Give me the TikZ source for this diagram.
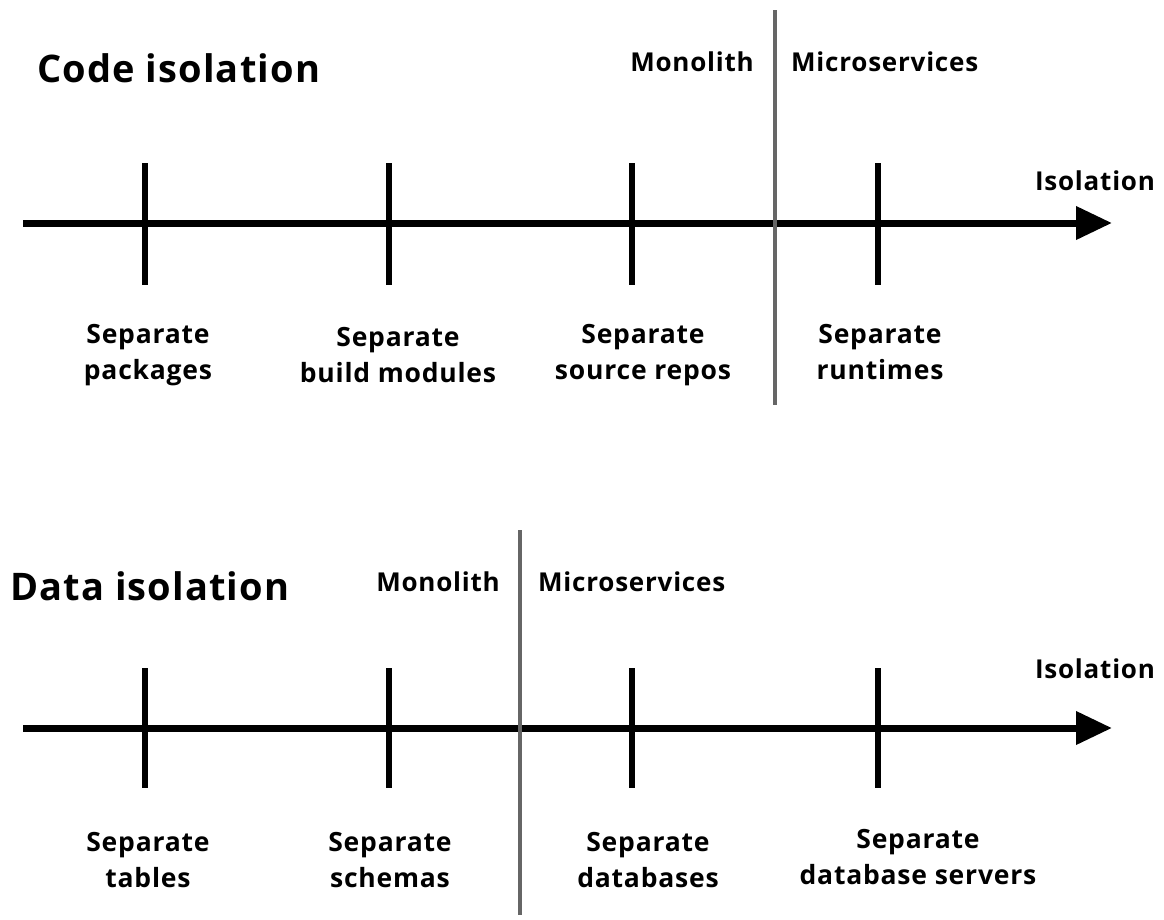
\documentclass[tikz,border=0pt]{standalone}
\usepackage{fontspec}
\setmainfont{Open Sans}[LetterSpace=3]
\usetikzlibrary{arrows.meta}
\begin{document}
\begin{tikzpicture}[x=1pt,y=-1pt,
  axis/.style={line width=7pt,-{Triangle[length=36pt,width=32pt]}},
  tick/.style={line width=6.5pt},
  divider/.style={line width=3.5pt,draw=black!60},
  title/.style={font=\fontsize{38}{44}\selectfont\bfseries,anchor=west,inner sep=0pt},
  side/.style={font=\fontsize{26}{30}\selectfont\bfseries,inner sep=0pt},
  lbl/.style={font=\fontsize{26.5}{36}\selectfont\bfseries,align=center,inner sep=0pt}]
\useasboundingbox[fill=white] (0,0) rectangle (1164,919);

% ---- code isolation ----
\node[title] (t1) at (37,68) {Code isolation};
\coordinate (a1s) at (23,223);
\coordinate (a1e) at (1112,223);
\draw[axis] (a1s) -- (a1e);
\foreach \x/\n in {145/p1,389/p2,632/p3,878/p4}{
  \coordinate (\n t) at (\x,163);
  \coordinate (\n b) at (\x,285);
  \draw[tick] (\n t) -- (\n b);
}
\coordinate (d1t) at (775,10);
\coordinate (d1b) at (775,405);
\draw[divider] (d1t) -- (d1b);
\node[side] (m1) at (692,62) {Monolith};
\node[side,anchor=west] (ms1) at (791,62) {Microservices};
\node[side] (i1) at (1095,181) {Isolation};
\node[lbl] (l11) at (148,355) {Separate\\packages};
\node[lbl] (l12) at (398,355) {Separate\\build modules};
\node[lbl] (l13) at (643,355) {Separate\\source repos};
\node[lbl] (l14) at (880,352) {Separate\\runtimes};

% ---- data isolation ----
\node[title] (t2) at (10,586) {Data isolation};
\coordinate (a2s) at (23,728);
\coordinate (a2e) at (1112,728);
\draw[axis] (a2s) -- (a2e);
\foreach \x/\n in {145/q1,389/q2,632/q3,878/q4}{
  \coordinate (\n t) at (\x,668);
  \coordinate (\n b) at (\x,788);
  \draw[tick] (\n t) -- (\n b);
}
\coordinate (d2t) at (520,530);
\coordinate (d2b) at (520,915);
\draw[divider] (d2t) -- (d2b);
\node[side] (m2) at (438,582) {Monolith};
\node[side,anchor=west] (ms2) at (538,582) {Microservices};
\node[side] (i2) at (1095,669) {Isolation};
\node[lbl] (l21) at (148,860) {Separate\\tables};
\node[lbl] (l22) at (390,860) {Separate\\schemas};
\node[lbl] (l23) at (648,860) {Separate\\databases};
\node[lbl] (l24) at (918,857) {Separate\\database servers};
\end{tikzpicture}
\end{document}
